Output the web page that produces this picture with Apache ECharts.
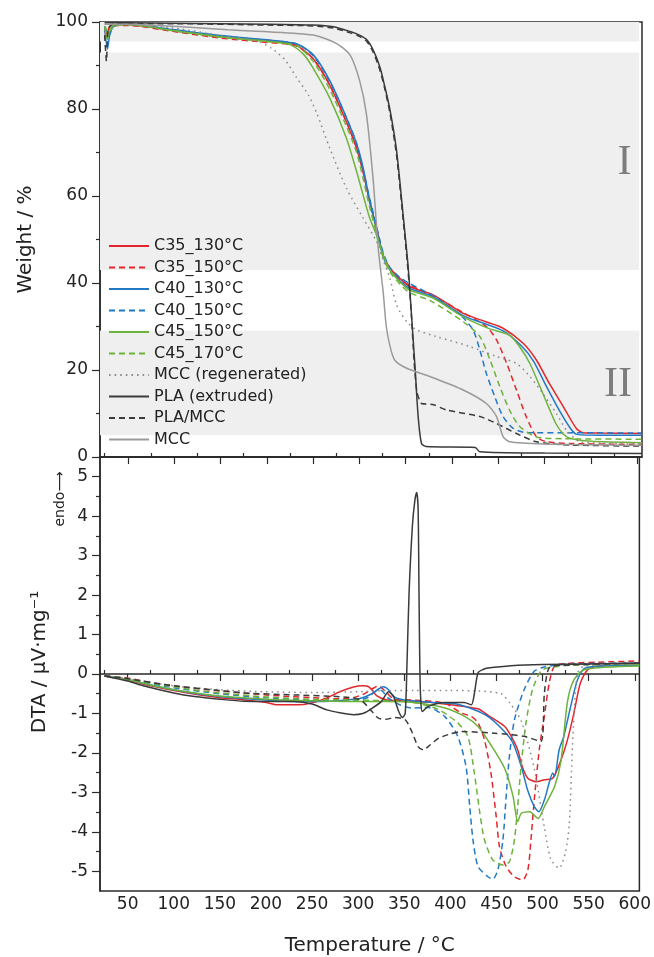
<!DOCTYPE html>
<html><head><meta charset="utf-8">
<script src="https://cdn.jsdelivr.net/npm/echarts@6/dist/echarts.min.js"></script>
<style>html,body{margin:0;padding:0;background:#fff}#c{width:654px;height:957px}</style>
</head><body><div id="c"></div>
<script>
// ---------- data ----------
const seriesNames = ['C35_130°C','C35_150°C','C40_130°C','C40_150°C','C45_150°C','C45_170°C','MCC (regenerated)','PLA (extruded)','PLA/MCC','MCC'];
const tempTicksMajor = [50,100,150,200,250,300,350,400,450,500,550,600];
const tempTicksMinor = [25,75,125,175,225,275,325,375,425,475,525,575];
const weightTicksMajor = [0,20,40,60,80,100];
const weightTicksMinor = [10,30,50,70,90];
const dtaTicksMajor = [-5,-4,-3,-2,-1,0,1,2,3,4,5];
const dtaTicksMinor = [-4.5,-3.5,-2.5,-1.5,-0.5,0.5,1.5,2.5,3.5,4.5];
const weightBands = [[5,29],[43,93],[95.5,100]];
const zoneLabels = [['I',586,67.6],['II',579,16.6]];

// TGA (weight %) [temperature, weight]
const tgaC35_130 = [[25,98.5],[27,96.5],[30,98.8],[35,99.4],[50,99.4],[75,98.8],[100,98.0],[125,97.3],[150,96.6],[175,96.2],[200,95.8],[220,95.3],[232,94.7],[250,91.6],[268,85.5],[286,77],[297,71],[304,65.6],[311,58.7],[318.5,52.6],[325.6,46.4],[333,43.4],[343.6,41.1],[354,39.2],[380,37.2],[412,33],[435,31.2],[455,29.6],[477,26.1],[491,22.3],[505,16.9],[520,11.6],[534,6.6],[541,5.6],[560,5.5],[605,5.4]];
const tgaC35_150 = [[25,98.5],[28,96.8],[32,99],[50,99.2],[100,97.8],[150,96.3],[200,95.3],[232,94.5],[250,91.5],[268,85.5],[286,77],[297,71],[304,65.5],[311,59],[318.5,52.5],[325.6,46.5],[333,43.2],[343.6,40.8],[354,39.5],[380,37],[412,33.2],[437,30],[448,26.9],[459,21.5],[469.5,15.4],[480,9.3],[491,4.7],[502,3.5],[530,3.1],[605,2.9]];
const tgaC40_130 = [[25,99],[28,93.8],[31,97.5],[36,99.2],[50,99.5],[100,98.2],[150,96.9],[200,95.9],[232,95],[250,92.5],[268,86.5],[286,78],[297,72],[304,66.5],[311,59],[318.5,52.5],[325.6,46],[333,43],[343.6,40.5],[354,38.8],[380,36.8],[412,32.5],[455,29],[475,25.5],[488,22],[500,17],[515,11],[528,6.5],[535,5.2],[560,5.0],[605,5.0]];
const tgaC40_150 = [[25,99],[30,97],[35,99.3],[50,99.5],[100,98.2],[150,96.8],[200,95.8],[232,95],[250,92.3],[268,86.3],[286,78],[297,72],[304,66],[311,59.5],[318.5,53],[325.6,47],[333,43.5],[343.6,41.3],[354,39.9],[380,37],[400,34],[412,32],[422.7,29.2],[430,24.6],[437,19.2],[446,13.9],[455,9.3],[466,6.6],[480,5.6],[520,5.6],[605,5.5]];
const tgaC45_150 = [[25,98.8],[28,96],[31,98.5],[36,99.3],[50,99.4],[100,98],[150,96.6],[200,95.6],[225,94.8],[240,92.5],[250,89.4],[268,82.5],[286,73.3],[297,65.6],[304,60.2],[311,55],[318.5,51],[325.6,46.4],[333,43],[343.6,40.3],[354,38.4],[380,36.5],[412,32.2],[440,29.5],[462,28],[474,25],[484,21.5],[498,14.6],[512,7.7],[520,5.3],[527,4.3],[550,3.6],[605,3.3]];
const tgaC45_170 = [[25,99],[30,97.5],[35,99.3],[50,99.4],[100,98],[150,96.5],[200,95.5],[232,94.6],[250,91],[268,84.5],[286,76],[297,70],[304,64],[311,57.5],[318.5,51.5],[325.6,46],[333,42.5],[343.6,39.8],[354,37.8],[376,36],[412,31.1],[430,27.7],[441,22.3],[451.5,16.2],[462,10.8],[473,7],[491,4.6],[520,4.2],[605,4.1]];
const tgaMCCreg = [[25,99.5],[50,99.5],[100,98.6],[150,96.9],[190,95.6],[205,94],[219.6,91.3],[232,87.3],[245,83.2],[254,79],[268,71],[286,61.8],[304,54.9],[318.5,49.5],[325.6,45.3],[333,41],[340,35],[351,31.1],[362,29.2],[383,27.7],[419,25.4],[448,23.1],[469.5,21.5],[484,18.5],[498,14.6],[512.6,10],[523.4,6.2],[538,3.5],[560,3.2],[605,3.0]];
const tgaPLA = [[25,99.8],[50,99.8],[100,99.7],[200,99.5],[250,99.3],[272,98.9],[290,97.8],[300,97],[308,95.9],[315,93.5],[322,89.7],[327,85.5],[333,79.8],[340,70.6],[347,56],[352.6,43.7],[356.3,32.3],[360,20.8],[363.4,9.3],[367,3.1],[372,2.4],[425,2.2],[430,1.2],[500,0.9],[605,0.8]];
const tgaPLAMCC = [[25,97],[27,91],[29,98.5],[35,99.6],[100,99.6],[200,99.3],[250,99.1],[272,98.6],[290,97.5],[300,96.7],[308,95.5],[315,93],[322,89],[327,85],[333,79],[340,69.5],[347,55],[352,44],[356,33],[359,22],[362,15],[365,13],[367,12.3],[380,12],[394,10.8],[430,9.3],[448,7.7],[469.5,5.4],[491,3.5],[520,2.8],[605,2.5]];
const tgaMCC = [[25,99.5],[50,99.5],[100,99],[158,98.2],[196,97.8],[250,97],[275,95.1],[290,92.4],[300.5,86.3],[307.7,78.6],[315,63.3],[320.3,48],[325.6,38],[329,30],[333,25.5],[338,22.3],[351,20.4],[376,18.5],[412,15.4],[437,12.3],[448,9.3],[455,4.7],[462,3.5],[500,3.0],[605,2.7]];

// DTA (µV/mg) [temperature, signal]
const dtaC35_130 = [[25,-0.05],[50,-0.15],[75,-0.3],[100,-0.42],[125,-0.52],[150,-0.6],[175,-0.65],[200,-0.72],[212,-0.78],[235,-0.78],[248,-0.74],[265,-0.62],[280,-0.45],[295,-0.33],[305,-0.3],[312,-0.33],[320,-0.55],[330,-0.65],[345,-0.68],[360,-0.7],[380,-0.72],[400,-0.78],[430,-0.88],[441,-1.05],[459,-1.33],[466,-1.58],[473,-1.92],[478,-2.35],[484,-2.64],[493,-2.73],[502,-2.68],[511,-2.64],[520,-2.18],[527,-1.67],[534,-0.99],[541,-0.23],[549,0.11],[560,0.2],[605,0.22]];
const dtaC35_150 = [[25,-0.05],[50,-0.1],[75,-0.22],[100,-0.3],[125,-0.37],[150,-0.43],[175,-0.48],[200,-0.53],[225,-0.57],[250,-0.6],[275,-0.63],[290,-0.62],[305,-0.52],[315,-0.38],[322,-0.3],[330,-0.45],[340,-0.65],[360,-0.66],[394,-0.74],[412,-0.99],[423,-1.08],[430,-1.24],[437,-1.67],[444,-2.51],[449.7,-3.61],[453.3,-4.38],[460.5,-4.88],[469.5,-5.14],[478.4,-5.22],[484,-4.97],[487.4,-4.2],[491,-3.19],[496.4,-1.92],[501.8,-1.08],[507.2,-0.23],[512.6,0.19],[523,0.26],[560,0.3],[605,0.33]];
const dtaC40_130 = [[25,-0.05],[50,-0.14],[75,-0.28],[100,-0.4],[125,-0.5],[150,-0.57],[175,-0.62],[200,-0.66],[230,-0.7],[260,-0.7],[290,-0.65],[302,-0.62],[315,-0.5],[322,-0.38],[327.5,-0.32],[333,-0.4],[338,-0.57],[350,-0.66],[380,-0.72],[410,-0.78],[441,-1.08],[466,-1.67],[477,-2.35],[484,-2.96],[491,-3.36],[496,-3.49],[502,-3.19],[507,-2.77],[511,-2.51],[513,-2.6],[518,-1.92],[523,-1.58],[530.5,-0.82],[538,-0.14],[547,0.16],[605,0.22]];
const dtaC40_150 = [[25,-0.05],[50,-0.12],[100,-0.35],[150,-0.5],[200,-0.6],[250,-0.66],[290,-0.68],[310,-0.6],[318,-0.45],[325,-0.42],[332,-0.6],[345,-0.78],[358,-0.86],[376,-0.85],[394,-1.08],[408,-1.58],[417,-2.35],[421,-3.36],[424.5,-4.2],[430,-4.88],[440.7,-5.14],[446,-5.2],[451.5,-4.97],[457,-4.2],[460.5,-3.1],[464,-2.09],[469.5,-1.16],[480,-0.4],[491,0.07],[502,0.18],[530,0.25],[605,0.28]];
const dtaC45_150 = [[25,-0.05],[50,-0.14],[75,-0.28],[100,-0.4],[150,-0.56],[200,-0.64],[250,-0.68],[300,-0.7],[330,-0.7],[360,-0.72],[394,-0.86],[416,-1.08],[430,-1.33],[444,-1.8],[459,-2.4],[468,-3.1],[473,-3.74],[477,-3.53],[486,-3.49],[495,-3.66],[502,-3.36],[513,-2.85],[520,-2.2],[527,-0.7],[534,-0.15],[545,0.11],[605,0.2]];
const dtaC45_170 = [[25,-0.05],[50,-0.12],[100,-0.33],[150,-0.48],[200,-0.58],[250,-0.64],[300,-0.66],[330,-0.68],[360,-0.72],[387,-0.9],[408,-1.24],[419,-1.58],[426,-2.51],[432,-3.53],[437,-4.2],[446,-4.71],[457,-4.84],[464,-4.76],[469.5,-4.2],[473,-3.36],[476.6,-2.35],[482,-1.24],[489,-0.4],[498,0.07],[505,0.15],[530,0.22],[605,0.25]];
const dtaMCCreg = [[25,-0.05],[50,-0.12],[100,-0.3],[150,-0.4],[200,-0.45],[250,-0.47],[300,-0.45],[330,-0.42],[360,-0.42],[400,-0.42],[430,-0.43],[455,-0.5],[465,-0.75],[477,-1.2],[491,-2.4],[502,-3.9],[509,-4.7],[518,-4.92],[525,-4.5],[529,-3.8],[532.5,-1.8],[537.6,0.0],[545,0.2],[605,0.26]];
const dtaPLA = [[25,-0.05],[50,-0.18],[69,-0.31],[100,-0.48],[122.6,-0.57],[150,-0.64],[176.5,-0.69],[230,-0.7],[250,-0.76],[266,-0.91],[280,-0.98],[295,-1.03],[305,-1.0],[313,-0.9],[325,-0.7],[333,-0.45],[338,-0.55],[344,-0.95],[348,-1.1],[351,-1.0],[353,0.3],[355.2,2.06],[358.8,3.75],[361.5,4.4],[363.4,4.6],[365,4.2],[366,2.0],[367,0.0],[368,-0.7],[369.5,-0.95],[376,-0.82],[394,-0.72],[415,-0.72],[422.7,-0.78],[426,-0.5],[430,0.03],[436,0.12],[440.7,0.15],[465.8,0.21],[500,0.24],[605,0.27]];
const dtaPLAMCC = [[25,-0.05],[50,-0.12],[100,-0.3],[150,-0.42],[176.5,-0.48],[230,-0.53],[284,-0.58],[302,-0.65],[315,-0.95],[322,-1.12],[330,-1.15],[340,-1.1],[351,-1.16],[358,-1.45],[365,-1.84],[370.6,-1.92],[378,-1.8],[387,-1.63],[400,-1.52],[412,-1.46],[448,-1.5],[480,-1.58],[498,-1.71],[502,-0.48],[507,0.15],[520,0.22],[605,0.28]];

const tgaData = [tgaC35_130,tgaC35_150,tgaC40_130,tgaC40_150,tgaC45_150,tgaC45_170,tgaMCCreg,tgaPLA,tgaPLAMCC,tgaMCC];
const dtaData = [dtaC35_130,dtaC35_150,dtaC40_130,dtaC40_150,dtaC45_150,dtaC45_170,dtaMCCreg,dtaPLA,dtaPLAMCC,null];

// ---------- styles ----------
const RED='#e3262b', BLUE='#2179c6', GREEN='#6cb33c', DOT='#8c8c8c', DARK='#3a3a3a', GRAY='#9a9a9a';
const lineColors = [RED,RED,BLUE,BLUE,GREEN,GREEN,DOT,DARK,DARK,GRAY];
const DASH=[6,4], DOTTED=[1.6,4];
const lineTypes = ['solid',DASH,'solid',DASH,'solid',DASH,DOTTED,'solid',DASH,'solid'];
const FONT = 'DejaVu Sans';
const AX = '#2a2a2a';

function mkSeries(data, i, gi) {
  return {
    name: seriesNames[i], type: 'line', data: data,
    xAxisIndex: gi === 0 ? 0 : 2, yAxisIndex: gi === 0 ? 0 : 2,
    showSymbol: false, symbol: 'none', smooth: 0.25,
    lineStyle: { color: lineColors[i], width: 1.5, type: lineTypes[i] },
    itemStyle: { color: lineColors[i] },
    z: 3, silent: true
  };
}

const series = [];
series.push({
  name: 'bands', type: 'line', data: [], xAxisIndex: 0, yAxisIndex: 0, silent: true,
  markArea: {
    silent: true, itemStyle: { color: '#efefef' },
    data: weightBands.map(b => [{ coord: [20, b[1]] }, { coord: [602, b[0]] }])
  },
  markPoint: {
    symbol: 'circle', symbolSize: 1, itemStyle: { color: 'rgba(0,0,0,0)' },
    label: { show: true, position: 'inside', color: '#7c7c7c', fontFamily: 'Liberation Serif', fontSize: 42, formatter: p => p.name },
    data: zoneLabels.map(z => ({ name: z[0], coord: [z[1], z[2]] }))
  }
});
tgaData.forEach((d, i) => series.push(mkSeries(d, i, 0)));
dtaData.forEach((d, i) => { if (d) series.push(mkSeries(d, i, 1)); });

function xAx(grid, major, withLabels, name) {
  const o = {
    type: 'value', gridIndex: grid, min: 20, max: 605,
    axisLine: { show: major, lineStyle: { color: AX, width: 1.5 } },
    axisTick: { show: true, inside: false, length: major ? 7 : 4, lineStyle: { color: AX, width: 1.2 }, customValues: major ? tempTicksMajor : tempTicksMinor },
    axisLabel: { show: withLabels, customValues: tempTicksMajor, fontFamily: FONT, fontSize: 17, color: '#222', margin: 5 },
    splitLine: { show: false }
  };
  if (name) { o.name = name; o.nameLocation = 'middle'; o.nameGap = 45; o.nameTextStyle = { fontFamily: FONT, fontSize: 20, color: '#222' }; }
  return o;
}
function yAx(grid, min, max, majorT, minorT, major, name, gap, pad) {
  const o = {
    type: 'value', gridIndex: grid, min: min, max: max, position: 'left',
    axisLine: { show: major, lineStyle: { color: AX, width: 1.5 } },
    axisTick: { show: true, inside: false, length: major ? 8 : 4, lineStyle: { color: AX, width: 1.2 }, customValues: major ? majorT : minorT },
    axisLabel: { show: major, customValues: majorT, fontFamily: FONT, fontSize: 17, color: '#222', margin: 12 },
    splitLine: { show: false }
  };
  if (name) { o.name = name; o.nameLocation = 'middle'; o.nameGap = gap; o.nameTextStyle = { fontFamily: FONT, fontSize: 20, color: '#222', padding: pad || 0 }; }
  return o;
}

const option = {
  animation: false,
  backgroundColor: '#fff',
  grid: [
    { left: 100, top: 22, width: 542, height: 435, show: true, borderColor: AX, borderWidth: 1.5, backgroundColor: 'transparent' },
    { left: 100, top: 457, width: 542, height: 434.7, show: true, borderColor: AX, borderWidth: 1.5, backgroundColor: 'transparent' }
  ],
  xAxis: [ xAx(0, true, false), xAx(0, false, false), xAx(1, true, true, 'Temperature / °C'), xAx(1, false, false) ],
  yAxis: [
    yAx(0, 0, 100, weightTicksMajor, weightTicksMinor, true, 'Weight / %', 64),
    yAx(0, 0, 100, weightTicksMajor, weightTicksMinor, false),
    yAx(1, -5.5, 5.5, dtaTicksMajor, dtaTicksMinor, true, 'DTA / µV·mg⁻¹', 50, [0, 0, 0, 24]),
    yAx(1, -5.5, 5.5, dtaTicksMajor, dtaTicksMinor, false)
  ],
  legend: {
    data: seriesNames, orient: 'vertical', left: 108, top: 238, padding: 0,
    itemWidth: 40, itemHeight: 12, itemGap: 5.5,
    itemStyle: { opacity: 0, borderWidth: 0 },
    textStyle: { fontFamily: FONT, fontSize: 16, color: '#222', lineHeight: 16 },
    selectedMode: false
  },
  graphic: [{
    type: 'text', x: 60, y: 499, rotation: Math.PI / 2,
    style: { text: 'endo⟶', fontFamily: FONT, fontSize: 14, fill: '#222', align: 'center', verticalAlign: 'middle', textAlign: 'center', textVerticalAlign: 'middle' }
  }],
  series: series
};
const chart = echarts.init(document.getElementById('c'), null, { renderer: 'canvas' });
chart.setOption(option);
</script></body></html>
